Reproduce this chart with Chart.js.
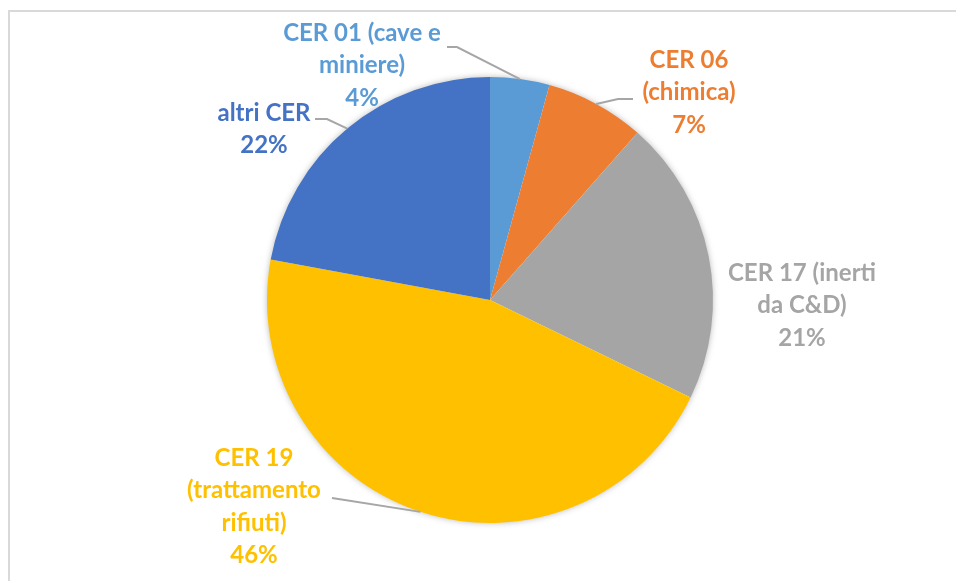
<!DOCTYPE html>
<html>
<head>
<meta charset="utf-8">
<script src="https://cdn.jsdelivr.net/npm/chart.js@4.4.1/dist/chart.umd.min.js"></script>
<style>
  html, body { margin: 0; padding: 0; background: #fff; }
  #wrap { position: relative; width: 956px; height: 581px; overflow: hidden; }
  #frame {
    position: absolute; left: 8px; top: 10px; width: 980px; height: 600px;
    border-left: 2px solid #d9d9d9; border-top: 2px solid #d9d9d9;
  }
  canvas { position: absolute; left: 0; top: 0; }
</style>
</head>
<body>
<div id="wrap">
  <div id="frame"></div>
  <canvas id="pie" width="956" height="581"></canvas>
</div>
<script>
// slices, clockwise from 12 o'clock
const CATEGORIES = ["CER 01 (cave e miniere)", "CER 06 (chimica)", "CER 17 (inerti da C&D)", "CER 19 (trattamento rifiuti)", "altri CER"];
const SHARES = [4.3, 7.2, 20.7, 45.7, 22.1];
const PCT_LABELS = ["4%", "7%", "21%", "46%", "22%"];
const COLORS = ["#5B9BD5", "#ED7D31", "#A5A5A5", "#FFC000", "#4472C4"];

// label text lines (as wrapped in the original)
const LABEL_LINES = [
  ["CER 01 (cave e", "miniere)"],
  ["CER 06", "(chimica)"],
  ["CER 17 (inerti", "da C&D)"],
  ["CER 19", "(trattamento", "rifiuti)"],
  ["altri CER"],
];

// label layout: centre of first line relative to pie centre, leader start (or null)
const LABEL_POS = [
  { dx: -128, dy: -267, lead: [[-43, -253], [-33, -253]] },
  { dx: 199, dy: -240, lead: [[143, -201], [128, -201]] },
  { dx: 312, dy: -27, lead: null },
  { dx: -236, dy: 158, lead: [[-158, 198], [-158, 198]] },
  { dx: -226, dy: -187, lead: [[-175, -181], [-163, -181]] },
];

const FONT = "bold 24px Lato, 'Open Sans', sans-serif";
const LINE_H = 32.5;

const pieShadow = {
  id: "pieShadow",
  beforeDatasetsDraw(chart) {
    const arc = chart.getDatasetMeta(0).data[0];
    if (!arc) return;
    const ctx = chart.ctx;
    ctx.save();
    ctx.shadowColor = "rgba(0,0,0,0.35)";
    ctx.shadowBlur = 7;
    ctx.fillStyle = "#fff";
    ctx.beginPath();
    ctx.arc(arc.x, arc.y, arc.outerRadius - 1, 0, Math.PI * 2);
    ctx.fill();
    ctx.restore();
  }
};

const pieLabels = {
  id: "pieLabels",
  afterDatasetsDraw(chart) {
    const ctx = chart.ctx;
    const arcs = chart.getDatasetMeta(0).data;
    ctx.save();
    ctx.font = FONT;
    ctx.textAlign = "center";
    ctx.textBaseline = "middle";
    arcs.forEach((arc, i) => {
      const cx = arc.x, cy = arc.y;
      const pos = LABEL_POS[i];
      if (pos.lead) {
        const mid = (arc.startAngle + arc.endAngle) / 2;
        const ex = cx + Math.cos(mid) * arc.outerRadius;
        const ey = cy + Math.sin(mid) * arc.outerRadius;
        ctx.strokeStyle = "#a6a6a6";
        ctx.lineWidth = 2;
        ctx.beginPath();
        ctx.moveTo(cx + pos.lead[0][0], cy + pos.lead[0][1]);
        ctx.lineTo(cx + pos.lead[1][0], cy + pos.lead[1][1]);
        ctx.lineTo(ex, ey);
        ctx.stroke();
      }
      ctx.fillStyle = COLORS[i];
      const lines = LABEL_LINES[i].concat([PCT_LABELS[i]]);
      lines.forEach((t, k) => {
        ctx.fillText(t, cx + pos.dx, cy + pos.dy + k * LINE_H);
      });
    });
    ctx.restore();
  }
};

new Chart(document.getElementById("pie"), {
  type: "pie",
  data: {
    labels: CATEGORIES,
    datasets: [{
      data: SHARES,
      backgroundColor: COLORS,
      borderWidth: 0,
    }]
  },
  options: {
    responsive: false,
    animation: false,
    layout: { padding: { left: 267, right: 243, top: 77, bottom: 58 } },
    plugins: { legend: { display: false }, tooltip: { enabled: false } },
  },
  plugins: [pieShadow, pieLabels],
});
</script>
</body>
</html>
